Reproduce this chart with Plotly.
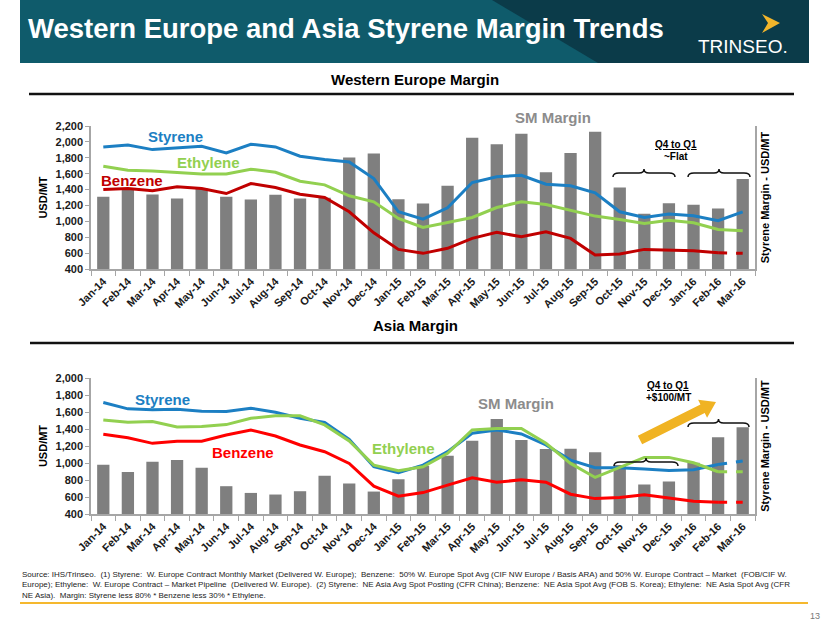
import math
import plotly.graph_objects as go

W, H = 830, 623

months = ["Jan-14", "Feb-14", "Mar-14", "Apr-14", "May-14", "Jun-14", "Jul-14", "Aug-14", "Sep-14",
          "Oct-14", "Nov-14", "Dec-14", "Jan-15", "Feb-15", "Mar-15", "Apr-15", "May-15", "Jun-15",
          "Jul-15", "Aug-15", "Sep-15", "Oct-15", "Nov-15", "Dec-15", "Jan-16", "Feb-16", "Mar-16"]

# Western Europe (USD/MT)
we_margin = [1308, 1400, 1338, 1287, 1413, 1308, 1275, 1334, 1287, 1296, 1802, 1853, 1279, 1225,
             1447, 2053, 1970, 2104, 1618, 1861, 2129, 1426, 1095, 1229, 1208, 1162, 1534]
we_styrene = [1936, 1961, 1903, 1928, 1945, 1861, 1970, 1936, 1819, 1777, 1748, 1539, 1120, 1028,
              1170, 1488, 1560, 1580, 1467, 1447, 1359, 1120, 1049, 1091, 1070, 1007, 1120]
we_ethylene = [1693, 1643, 1635, 1614, 1597, 1597, 1656, 1618, 1505, 1459, 1321, 1246, 1036, 923,
               986, 1049, 1174, 1246, 1212, 1141, 1066, 1024, 974, 1015, 982, 898, 881]
we_benzene = [1400, 1413, 1384, 1434, 1413, 1350, 1476, 1426, 1342, 1300, 1120, 856, 647, 597,
              660, 785, 861, 806, 869, 785, 576, 588, 647, 639, 630, 605, 597]

# Asia (USD/MT)
as_margin = [979, 893, 1015, 1034, 944, 727, 648, 629, 668, 849, 759, 664, 810, 967,
             1086, 1263, 1519, 1271, 1165, 1168, 1125, 975, 747, 782, 1003, 1302, 1421]
as_styrene = [1712, 1637, 1626, 1633, 1610, 1606, 1645, 1598, 1527, 1476, 1279, 956, 885, 975,
              1133, 1350, 1389, 1342, 1212, 1034, 944, 944, 928, 912, 920, 983, 1023]
as_ethylene = [1507, 1480, 1488, 1425, 1429, 1452, 1527, 1555, 1555, 1448, 1259, 975, 908, 956,
               1113, 1389, 1405, 1405, 1232, 995, 830, 948, 1066, 1066, 1003, 897, 897]
as_benzene = [1338, 1298, 1231, 1255, 1255, 1330, 1389, 1318, 1212, 1133, 995, 727, 609, 652,
              739, 826, 774, 802, 774, 633, 581, 593, 625, 589, 550, 538, 538]

BLUE = "#1C7FC3"
GREEN = "#92D050"
RED_TOP = "#C00000"
RED_BOT = "#FF0000"
BAR = "#7F7F7F"
AXC = "#A6A6A6"
FONT = "Arial, Liberation Sans, sans-serif"


def px(x):
    return x / W


def py(y):
    return 1 - y / H


fig = go.Figure()


def add_chart(xa, ybar, yline, margin, sty, eth, ben, red, dash_all):
    fig.add_trace(go.Bar(x=months, y=margin, marker=dict(color=BAR, line=dict(width=0)),
                         width=0.5, xaxis=xa, yaxis=ybar, showlegend=False, name="SM Margin"))
    series = [(sty, BLUE, dash_all), (eth, GREEN, dash_all), (ben, red, True)]
    for vals, col, dashed in series:
        if dashed:
            fig.add_trace(go.Scatter(x=months[:-1], y=vals[:-1], mode="lines",
                                     line=dict(color=col, width=3), xaxis=xa, yaxis=yline,
                                     showlegend=False))
            fig.add_trace(go.Scatter(x=months[-2:], y=vals[-2:], mode="lines",
                                     line=dict(color=col, width=3, dash="dash"), xaxis=xa,
                                     yaxis=yline, showlegend=False))
        else:
            fig.add_trace(go.Scatter(x=months, y=vals, mode="lines",
                                     line=dict(color=col, width=3), xaxis=xa, yaxis=yline,
                                     showlegend=False))


add_chart("x", "y", "y2", we_margin, we_styrene, we_ethylene, we_benzene, RED_TOP, False)
add_chart("x2", "y3", "y4", as_margin, as_styrene, as_ethylene, as_benzene, RED_BOT, True)

xdom = [px(91), px(755)]
top_dom = [py(269), py(126)]
bot_dom = [py(514), py(378)]

tickfont = dict(family=FONT, size=11, color="#1a1a1a", weight="bold")
titlefont = dict(family=FONT, size=11, color="#000", weight="bold")

xcommon = dict(type="category", range=[-0.5, 26.5], tickangle=-45, tickson="boundaries",
               ticks="outside", ticklen=5, tickcolor=AXC, showline=True, linecolor=AXC,
               linewidth=1.5, showgrid=False, zeroline=False, tickfont=tickfont,
               domain=xdom, automargin=False)


def ybar_axis(dom, rng, anchor):
    return dict(domain=dom, range=rng, side="right", showline=True, linecolor=AXC, linewidth=1.5,
                showticklabels=False, ticks="", showgrid=False, zeroline=False, anchor=anchor,
                automargin=False,
                title=dict(text="Styrene Margin - USD/MT", font=titlefont, standoff=6))


def yline_axis(over, rng, anchor):
    return dict(overlaying=over, range=rng, side="left", showline=True, linecolor=AXC,
                linewidth=1.5, ticks="outside", ticklen=4, tickcolor=AXC, dtick=200,
                tickformat=",", showgrid=False, zeroline=False, anchor=anchor, automargin=False,
                tickfont=tickfont, title=dict(text="USD/MT", font=titlefont, standoff=6))


fig.update_layout(
    width=W, height=H, margin=dict(l=0, r=0, t=0, b=0, autoexpand=False),
    plot_bgcolor="white", paper_bgcolor="white", barmode="overlay",
    xaxis=dict(anchor="y", **xcommon),
    xaxis2=dict(anchor="y3", **xcommon),
    yaxis=ybar_axis(top_dom, [400, 2200], "x"),
    yaxis2=yline_axis("y", [400, 2200], "x"),
    yaxis3=ybar_axis(bot_dom, [400, 2000], "x2"),
    yaxis4=yline_axis("y3", [400, 2000], "x2"),
    font=dict(family=FONT),
)

shapes = []
# banner
shapes.append(dict(type="rect", xref="paper", yref="paper", x0=px(20), x1=px(809), y0=py(63), y1=py(0),
                   fillcolor="#0F5B6B", line=dict(width=0), layer="below"))
shapes.append(dict(type="path", xref="paper", yref="paper",
                   path=f"M {px(492)},{py(0)} L {px(809)},{py(0)} L {px(809)},{py(63)} L {px(598)},{py(63)} Z",
                   fillcolor="#0B3B49", line=dict(width=0), layer="below"))
# logo icon
shapes.append(dict(type="path", xref="paper", yref="paper",
                   path=f"M {px(762)},{py(14)} L {px(780)},{py(23)} L {px(762)},{py(33)} L {px(768)},{py(23)} Z",
                   fillcolor="#F2B52B", line=dict(width=0)))
# black rules
shapes.append(dict(type="line", xref="paper", yref="paper", x0=px(29), x1=px(794), y0=py(94), y1=py(94),
                   line=dict(color="#111", width=2.5)))
shapes.append(dict(type="line", xref="paper", yref="paper", x0=px(30), x1=px(794), y0=py(343), y1=py(343),
                   line=dict(color="#111", width=2.5)))
# footer rule
shapes.append(dict(type="line", xref="paper", yref="paper", x0=px(20), x1=px(808), y0=py(603), y1=py(603),
                   line=dict(color="#F5B82E", width=2)))


def brace(x0, x1, yt):
    xm = (x0 + x1) / 2
    ym = yt + 4
    yb = yt + 8
    p = (f"M {px(x0)},{py(yb)} Q {px(x0)},{py(ym)} {px(x0 + 6)},{py(ym)} "
         f"L {px(xm - 5)},{py(ym)} Q {px(xm)},{py(ym)} {px(xm)},{py(yt)} "
         f"Q {px(xm)},{py(ym)} {px(xm + 5)},{py(ym)} "
         f"L {px(x1 - 6)},{py(ym)} Q {px(x1)},{py(ym)} {px(x1)},{py(yb)}")
    return dict(type="path", xref="paper", yref="paper", path=p, line=dict(color="#111", width=1.5))


shapes.append(brace(613, 675, 169))
shapes.append(brace(688, 750, 169))
shapes.append(brace(614, 678, 458))
shapes.append(brace(688, 749, 419))

# yellow arrow
tx, ty = 640, 440
hx, hy = 716, 402
L = math.hypot(hx - tx, hy - ty)
ux, uy = (hx - tx) / L, (hy - ty) / L
nx, ny = -uy, ux
sw, hw, hl = 4.8, 10, 15
nkx, nky = hx - ux * hl, hy - uy * hl
pts = [(tx + nx * sw, ty + ny * sw), (nkx + nx * sw, nky + ny * sw), (nkx + nx * hw, nky + ny * hw),
       (hx, hy), (nkx - nx * hw, nky - ny * hw), (nkx - nx * sw, nky - ny * sw),
       (tx - nx * sw, ty - ny * sw)]
path = "M " + " L ".join(f"{px(a)},{py(b)}" for a, b in pts) + " Z"
shapes.append(dict(type="path", xref="paper", yref="paper", path=path, fillcolor="#F0B323",
                   line=dict(width=0)))

fig.update_layout(shapes=shapes)

ann = []


def text(x, y, t, size, color="#000", bold=True, xanchor="center", yanchor="middle", align="center"):
    ann.append(dict(x=px(x), y=py(y), xref="paper", yref="paper", text=t, showarrow=False,
                    xanchor=xanchor, yanchor=yanchor, align=align,
                    font=dict(family=FONT, size=size, color=color, weight="bold" if bold else "normal")))


text(26, 28, "Western Europe and Asia Styrene Margin Trends", 27.5, "white", xanchor="left")
text(743, 46, "TRINSEO.", 19, "white", bold=False)
text(415, 80, "Western Europe Margin", 15)
text(415, 325, "Asia Margin", 15)

# top chart labels
text(175, 136, "Styrene", 15, BLUE)
text(208, 162, "Ethylene", 15, GREEN)
text(132, 180, "Benzene", 15, RED_TOP)
text(553, 117, "SM Margin", 15, "#8C8C8C")
text(676, 144, "<u>Q4 to Q1</u>", 10)
text(676, 156, "~Flat", 10)

# bottom chart labels
text(162, 399, "Styrene", 15, BLUE)
text(243, 452, "Benzene", 15, RED_BOT)
text(403, 448, "Ethylene", 15, GREEN)
text(516, 403, "SM Margin", 15, "#8C8C8C")
text(668, 385, "<u>Q4 to Q1</u>", 10)
text(668, 397, "+$100/MT", 10)

foot = ("Source: IHS/Trinseo.  (1) Styrene:  W. Europe Contract Monthly Market (Delivered W. Europe);  Benzene:  50% W. Europe Spot Avg (CIF NW Europe / Basis ARA) and 50% W. Europe Contract – Market  (FOB/CIF W.<br>"
        "Europe); Ethylene:  W. Europe Contract – Market Pipeline  (Delivered W. Europe).  (2) Styrene:  NE Asia Avg Spot Posting (CFR China); Benzene:  NE Asia Spot Avg (FOB S. Korea); Ethylene:  NE Asia Spot Avg (CFR<br>"
        "NE Asia).  Margin: Styrene less 80% * Benzene less 30% * Ethylene.")
text(20, 585, foot, 8, "#222", bold=False, xanchor="left", align="left")
text(815, 616, "13", 9, "#777", bold=False)

fig.update_layout(annotations=ann)

fig.write_html("out.html")
